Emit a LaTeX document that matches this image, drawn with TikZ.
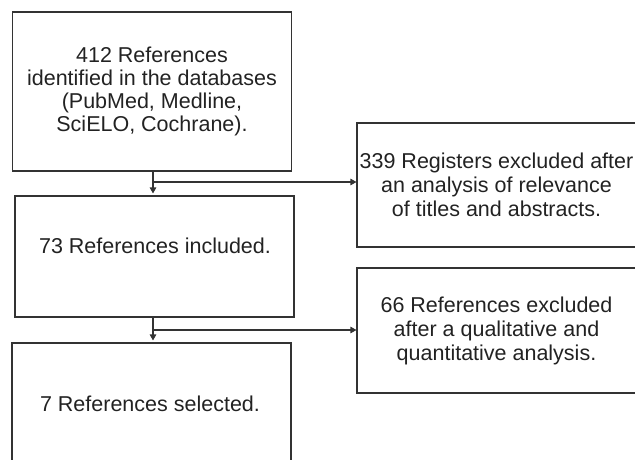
\documentclass[tikz,border=0pt]{standalone}
\usepackage{fontspec}
\setmainfont{Liberation Sans}
\usetikzlibrary{arrows.meta}
\definecolor{lc}{HTML}{333333}
\definecolor{tc}{HTML}{222222}
\begin{document}
\begin{tikzpicture}[x=1pt,y=-1pt,
  box/.style={draw=lc, line width=1.1pt, rectangle, minimum width=279pt, inner sep=0pt, align=center, text=tc, font=\fontsize{21.5}{23}\selectfont},
  rbox/.style={box, font=\fontsize{21.5}{24}\selectfont},
  txt/.style={text=tc, align=center, inner sep=0pt, font=\fontsize{21.5}{23}\selectfont},
  arr/.style={draw=lc, line width=1.1pt, -{Triangle[length=6pt,width=6.5pt]}}]
\clip (0,0) rectangle (635,460);
\node[box, minimum height=159pt] (b1) at (152,91.5) {412 References\\identified in the databases\\(PubMed, Medline,\\SciELO, Cochrane).};
\node[box, minimum height=121pt] (b2) at (154.5,256.5) {};
\node[txt] (t2) at (155,246) {73 References included.};
\node[box, minimum height=118pt] (b3) at (151.5,402) {};
\node[txt] (t3) at (150,404) {7 References selected.};
\node[rbox, minimum height=124pt] (r1) at (496.5,185) {339 Registers excluded after\\an analysis of relevance\\of titles and abstracts.};
\node[rbox, minimum height=125pt] (r2) at (496.5,330.5) {66 References excluded\\after a qualitative and\\quantitative analysis.};
\coordinate (j1) at (153,182);
\coordinate (j2) at (153,330);
\draw[arr, shorten >=2pt] (b1.south -| j1) -- (b2.north -| j1);
\draw[arr] (j1) -- (j1 -| r1.west);
\draw[arr, shorten >=2pt] (b2.south -| j2) -- (b3.north -| j2);
\draw[arr] (j2) -- (j2 -| r2.west);
\end{tikzpicture}
\end{document}
